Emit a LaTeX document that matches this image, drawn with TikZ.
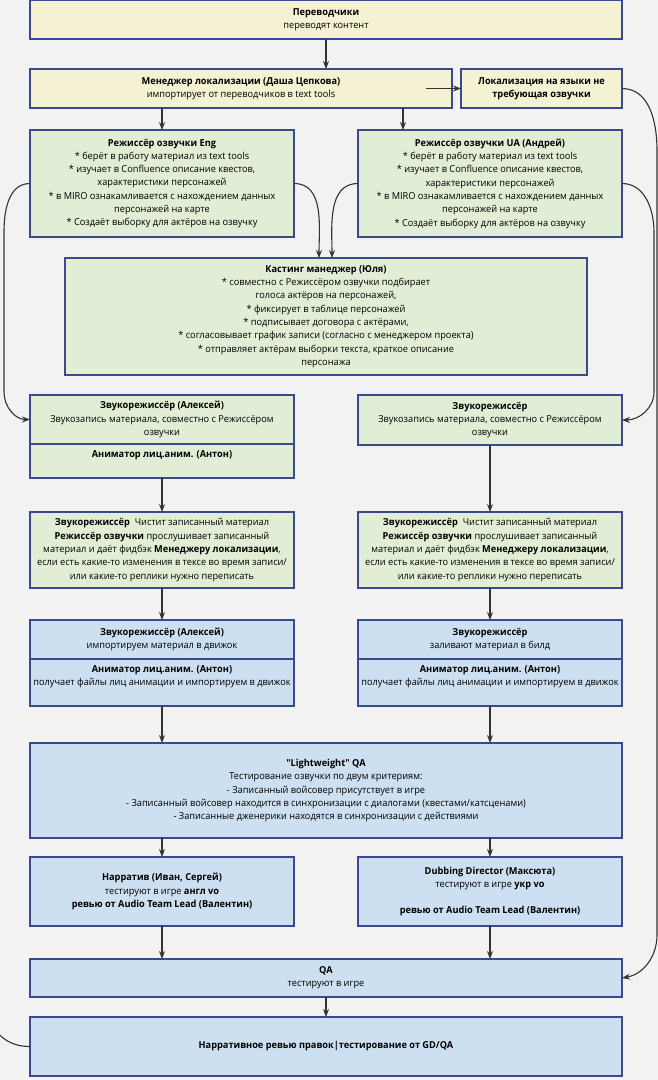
\documentclass[tikz,border=0pt]{standalone}
\usepackage{fontspec}
\setmainfont{Open Sans}[Ligatures=TeXOff, FakeStretch=0.96]
\usetikzlibrary{positioning,arrows.meta}

\definecolor{pagebg}{HTML}{F2F2F2}
\definecolor{stageline}{HTML}{3B4A8E}
\definecolor{ylwfill}{HTML}{F5F2D3}
\definecolor{grnfill}{HTML}{E2EDD5}
\definecolor{blufill}{HTML}{CCE0F1}
\definecolor{flowc}{HTML}{333333}

\tikzset{
  stage/.style={draw=stageline, line width=1.6pt, align=center, inner sep=0pt,
    outer sep=0pt, font=\fontsize{9.6}{13.3}\selectfont},
  ystage/.style={stage, fill=ylwfill},
  gstage/.style={stage, fill=grnfill},
  bstage/.style={stage, fill=blufill},
  flowline/.style={draw=flowc, line width=1.1pt},
  flow/.style={flowline, -{Stealth[length=8pt,width=6pt]}},
}

\begin{document}
\begin{tikzpicture}[x=1pt, y=-1pt]
  \useasboundingbox (0,0) rectangle (658,1080);
  \fill[pagebg] (0,0) rectangle (658,1080);

  \node[ystage, anchor=north west, minimum width=592pt, minimum height=39pt] (trans) at (30,0)
    {\textbf{Переводчики}\\переводят контент};
  \node[ystage, below right=30pt and 0pt of trans.south west, minimum width=422pt, minimum height=39pt] (mgr)
    {\textbf{Менеджер локализации (Даша Цепкова)}\\импортирует от переводчиков в text tools};
  \node[ystage, right=9pt of mgr, minimum width=161pt, minimum height=39pt] (novo)
    {\textbf{Локализация на языки не}\\\textbf{требующая озвучки}};

  \node[gstage, below right=22pt and 0pt of mgr.south west, minimum width=264pt, minimum height=107pt] (direng)
    {\textbf{Режиссёр озвучки Eng}\\* берёт в работу материал из text tools\\
     * изучает в Confluence описание квестов,\\характеристики персонажей\\
     * в MIRO ознакамливается с нахождением данных\\персонажей на карте\\
     * Создаёт выборку для актёров на озвучку};
  \node[gstage, right=64pt of direng, minimum width=264pt, minimum height=107pt] (dirua)
    {\textbf{Режиссёр озвучки UA (Андрей)}\\* берёт в работу материал из text tools\\
     * изучает в Confluence описание квестов,\\характеристики персонажей\\
     * в MIRO ознакамливается с нахождением данных\\персонажей на карте\\
     * Создаёт выборку для актёров на озвучку};

  \node[gstage, anchor=north, yshift=-21pt, minimum width=522pt, minimum height=117pt] (cast) at (trans.south |- direng.south)
    {\textbf{Кастинг манеджер (Юля)}\\* совместно с Режиссёром озвучки подбирает\\голоса актёров на персонажей,\\
     * фиксирует в таблице персонажей\\* подписывает договора с актёрами,\\
     * согласовывает график записи (согласно с менеджером проекта)\\
     * отправляет актёрам выборки текста, краткое описание\\персонажа};

  \node[gstage, anchor=north west, yshift=-20pt, minimum width=264pt, minimum height=49pt] (recl) at (direng.west |- cast.south)
    {\textbf{Звукорежиссёр (Алексей)}\\Звукозапись материала, совместно с Режиссёром\\озвучки};
  \node[gstage, below=0pt of recl, minimum width=264pt, minimum height=34pt] (animl)
    {\textbf{Аниматор лиц.аним. (Антон)}\\\mbox{}};
  \node[gstage, anchor=north west, minimum width=264pt, minimum height=50pt] (recr) at (dirua.west |- recl.north)
    {\textbf{Звукорежиссёр}\\Звукозапись материала, совместно с Режиссёром\\озвучки};

  \node[gstage, below=34pt of animl, minimum width=264pt, minimum height=76pt] (cleanl)
    {\textbf{Звукорежиссёр}~ Чистит записанный материал\\
     \textbf{Режиссёр озвучки} прослушивает записанный\\
     материал и даёт фидбэк \textbf{Менеджеру локализации},\\
     если есть какие-то изменения в тексе во время записи/\\
     или какие-то реплики нужно переписать};
  \node[gstage, anchor=north west, minimum width=264pt, minimum height=76pt] (cleanr) at (dirua.west |- cleanl.north)
    {\textbf{Звукорежиссёр}~ Чистит записанный материал\\
     \textbf{Режиссёр озвучки} прослушивает записанный\\
     материал и даёт фидбэк \textbf{Менеджеру локализации},\\
     если есть какие-то изменения в тексе во время записи/\\
     или какие-то реплики нужно переписать};

  \node[bstage, below=32pt of cleanl, minimum width=264pt, minimum height=39pt] (impl)
    {\textbf{Звукорежиссёр (Алексей)}\\импортируем материал в движок};
  \node[bstage, below=0pt of impl, minimum width=264pt, minimum height=47pt] (animimpl)
    {\textbf{Аниматор лиц.аним. (Антон)}\\получает файлы лиц анимации и импортируем в движок\\\mbox{}};
  \node[bstage, below=32pt of cleanr, minimum width=264pt, minimum height=39pt] (impr)
    {\textbf{Звукорежиссёр}\\заливают материал в билд};
  \node[bstage, below=0pt of impr, minimum width=264pt, minimum height=47pt] (animimpr)
    {\textbf{Аниматор лиц.аним. (Антон)}\\получает файлы лиц анимации и импортируем в движок\\\mbox{}};

  \node[bstage, anchor=north, yshift=-37pt, minimum width=592pt, minimum height=95pt] (lwqa) at (trans.south |- animimpl.south)
    {\textbf{"Lightweight" QA}\\Тестирование озвучки по двум критериям:\\
     - Записанный войсовер присутствует в игре\\
     - Записанный войсовер находится в синхронизации с диалогами (квестами/катсценами)\\
     - Записанные дженерики находятся в синхронизации с действиями};

  \node[bstage, anchor=north west, yshift=-19pt, minimum width=264pt, minimum height=69pt] (narr) at (direng.west |- lwqa.south)
    {\textbf{Нарратив (Иван, Сергей)}\\тестируют в игре \textbf{англ vo}\\\textbf{ревью от Audio Team Lead (Валентин)}};
  \node[bstage, anchor=north west, yshift=-19pt, minimum width=264pt, minimum height=69pt] (dub) at (dirua.west |- lwqa.south)
    {\textbf{Dubbing Director (Максюта)}\\тестируют в игре \textbf{укр vo}\\\mbox{}\\\textbf{ревью от Audio Team Lead (Валентин)}};

  \node[bstage, anchor=north, yshift=-33pt, minimum width=592pt, minimum height=38pt] (qa) at (trans.south |- narr.south)
    {\textbf{QA}\\тестируют в игре};
  \node[bstage, below=20pt of qa, minimum width=592pt, minimum height=59pt] (review)
    {\textbf{Нарративное ревью правок|тестирование от GD/QA}};

  % connectors
  \coordinate (mgrua) at ([xshift=-49pt]mgr.south east);
  \coordinate (offleft) at (-8,1026);
  \draw[flow] (trans.south) -- (trans.south |- mgr.north);
  \draw[flow] (direng.north |- mgr.south) -- (direng.north);
  \draw[flow] (mgrua) -- (mgrua |- dirua.north);
  \draw[flow] ([xshift=-26pt]mgr.east) -- (novo.west);
  \draw[flow] (direng.east) to[out=0,in=90] ([xshift=-7pt]cast.north);
  \draw[flow] (dirua.west) to[out=180,in=90] ([xshift=6pt]cast.north);
  \draw[flow] (direng.west) to[out=180,in=90] (4,232) -- (4,392) to[out=-90,in=180] (recl.west);
  \draw[flow] (dirua.east) to[out=0,in=90] (654,232) -- (654,392) to[out=-90,in=0] (recr.east);
  \draw[flow] (novo.east) to[out=0,in=90] (657,150) -- (657,935) to[out=-90,in=10] (qa.east);
  \draw[flowline] (review.west) to[out=180,in=-55] (offleft);

  \draw[flow] (animl) -- (cleanl);
  \draw[flow] (recr) -- (cleanr);
  \draw[flow] (cleanl) -- (impl);
  \draw[flow] (cleanr) -- (impr);
  \draw[flow] (animimpl.south) -- (animimpl.south |- lwqa.north);
  \draw[flow] (animimpr.south) -- (animimpr.south |- lwqa.north);
  \draw[flow] (lwqa.south -| narr.north) -- (narr.north);
  \draw[flow] (lwqa.south -| dub.north) -- (dub.north);
  \draw[flow] (narr.south) -- (narr.south |- qa.north);
  \draw[flow] (dub.south) -- (dub.south |- qa.north);
  \draw[flow] (qa) -- (review);
\end{tikzpicture}
\end{document}
